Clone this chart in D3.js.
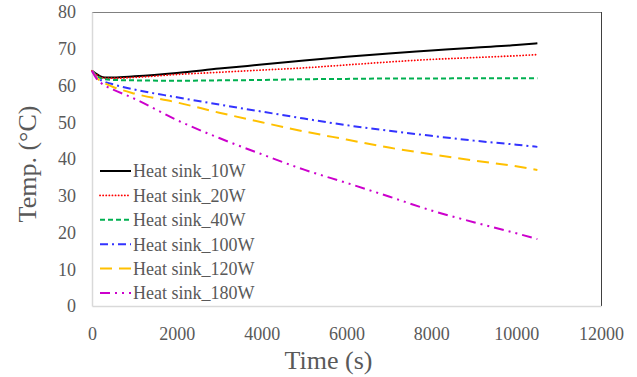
<!DOCTYPE html>
<html><head><meta charset="utf-8">
<script src="https://cdn.jsdelivr.net/npm/d3@7"></script>
<style>body{margin:0;background:#fff}svg{display:block}</style>
</head><body>
<svg id="c" width="637" height="377"></svg>
<script>
const times   = [0,100,200,300,500,1000,2000,3000,4000,5000,6000,7000,8000,9000,10000,10500];
const s10W    = [64,63.2,62.5,62.2,62.2,62.5,63.4,64.6,65.7,66.8,67.8,68.7,69.5,70.3,71.0,71.5];
const s20W    = [64,63.0,62.3,62.0,62.0,62.2,63.0,63.6,64.2,64.8,65.6,66.4,67.1,67.6,68.1,68.4];
const s40W    = [64,62.8,62.0,61.7,61.5,61.4,61.3,61.4,61.5,61.7,61.8,61.9,61.9,62.0,62.0,62.0];
const s100W   = [64,62.5,61.5,61.0,60.3,58.9,56.8,54.8,52.9,51.0,49.2,47.7,46.3,45.0,43.9,43.3];
const s120W   = [64,62.3,61.2,60.6,59.6,57.8,55.4,52.6,50.0,47.5,45.3,43.1,41.3,39.6,38.0,37.0];
const s180W   = [64,62.0,60.8,60.0,58.9,56.4,50.6,45.7,41.3,37.1,33.5,29.8,26.0,22.8,19.8,18.2];
const seriesNames = ["Heat sink_10W","Heat sink_20W","Heat sink_40W","Heat sink_100W","Heat sink_120W","Heat sink_180W"];
const xTicks = [0,2000,4000,6000,8000,10000,12000];
const yTicks = [0,10,20,30,40,50,60,70,80];

const seriesData = [s10W,s20W,s40W,s100W,s120W,s180W];
const styles = [
  {color:"#000000", dash:null, cap:"butt"},
  {color:"#ff0000", dash:"0.1 3", cap:"round", w:1.8},
  {color:"#00b050", dash:"5 3", cap:"butt"},
  {color:"#3333ff", dash:"8 4 2 4", cap:"butt"},
  {color:"#ffc000", dash:"12 7", cap:"butt"},
  {color:"#cc00cc", dash:"10 5 2 5 2 5", cap:"butt"}
];

const svg = d3.select("#c");
const L=92, R=601, T=12, B=306;
const x = d3.scaleLinear().domain([0,12000]).range([L,R]);
const y = d3.scaleLinear().domain([0,80]).range([B,T]);
const font = "'Liberation Serif','Times New Roman',serif";
const grey = "#595959";

// frame
svg.append("line").attr("x1",L).attr("x2",R).attr("y1",T+0.5).attr("y2",T+0.5).attr("stroke","#808080");
svg.append("line").attr("x1",R+0.5).attr("x2",R+0.5).attr("y1",T).attr("y2",B).attr("stroke","#404040");

// axes
const xAxis = svg.append("g").attr("transform",`translate(0,${B})`)
  .call(d3.axisBottom(x).tickValues(xTicks).tickSize(0).tickPadding(21).tickFormat(d3.format("d")));
const yAxis = svg.append("g").attr("transform",`translate(${L},0)`)
  .call(d3.axisLeft(y).tickValues(yTicks).tickSize(0).tickPadding(16));
[xAxis,yAxis].forEach(g=>{
  g.select(".domain").attr("stroke","#d9d9d9").attr("stroke-width",1.5);
  g.selectAll("text").attr("font-family",font).attr("font-size",18).attr("fill",grey);
});

// lines
const line = d3.line().x((d,i)=>x(times[i])).y(d=>y(d)).curve(d3.curveMonotoneX);
seriesData.forEach((s,k)=>{
  const st = styles[k];
  svg.append("path").datum(s).attr("d",line).attr("fill","none")
    .attr("stroke",st.color).attr("stroke-width",st.w||2)
    .attr("stroke-dasharray",st.dash).attr("stroke-linecap",st.cap);
});

// legend
const lg = svg.append("g");
seriesNames.forEach((n,k)=>{
  const st = styles[k];
  const yy = 171 + k*24.4;
  lg.append("line").attr("x1",100).attr("x2",131).attr("y1",yy).attr("y2",yy)
    .attr("stroke",st.color).attr("stroke-width",st.w||2)
    .attr("stroke-dasharray",st.dash).attr("stroke-linecap",st.cap);
  lg.append("text").attr("x",133).attr("y",yy).attr("dy","0.35em")
    .attr("font-family",font).attr("font-size",18).attr("fill",grey).text(n);
});

// titles
svg.append("text").attr("x",328.5).attr("y",369).attr("text-anchor","middle")
  .attr("font-family",font).attr("font-size",26).attr("fill",grey).text("Time (s)");
svg.append("text").attr("transform","translate(36,164) rotate(-90)").attr("text-anchor","middle")
  .attr("font-family",font).attr("font-size",26).attr("fill",grey).text("Temp. (°C)");
</script>
</body></html>
